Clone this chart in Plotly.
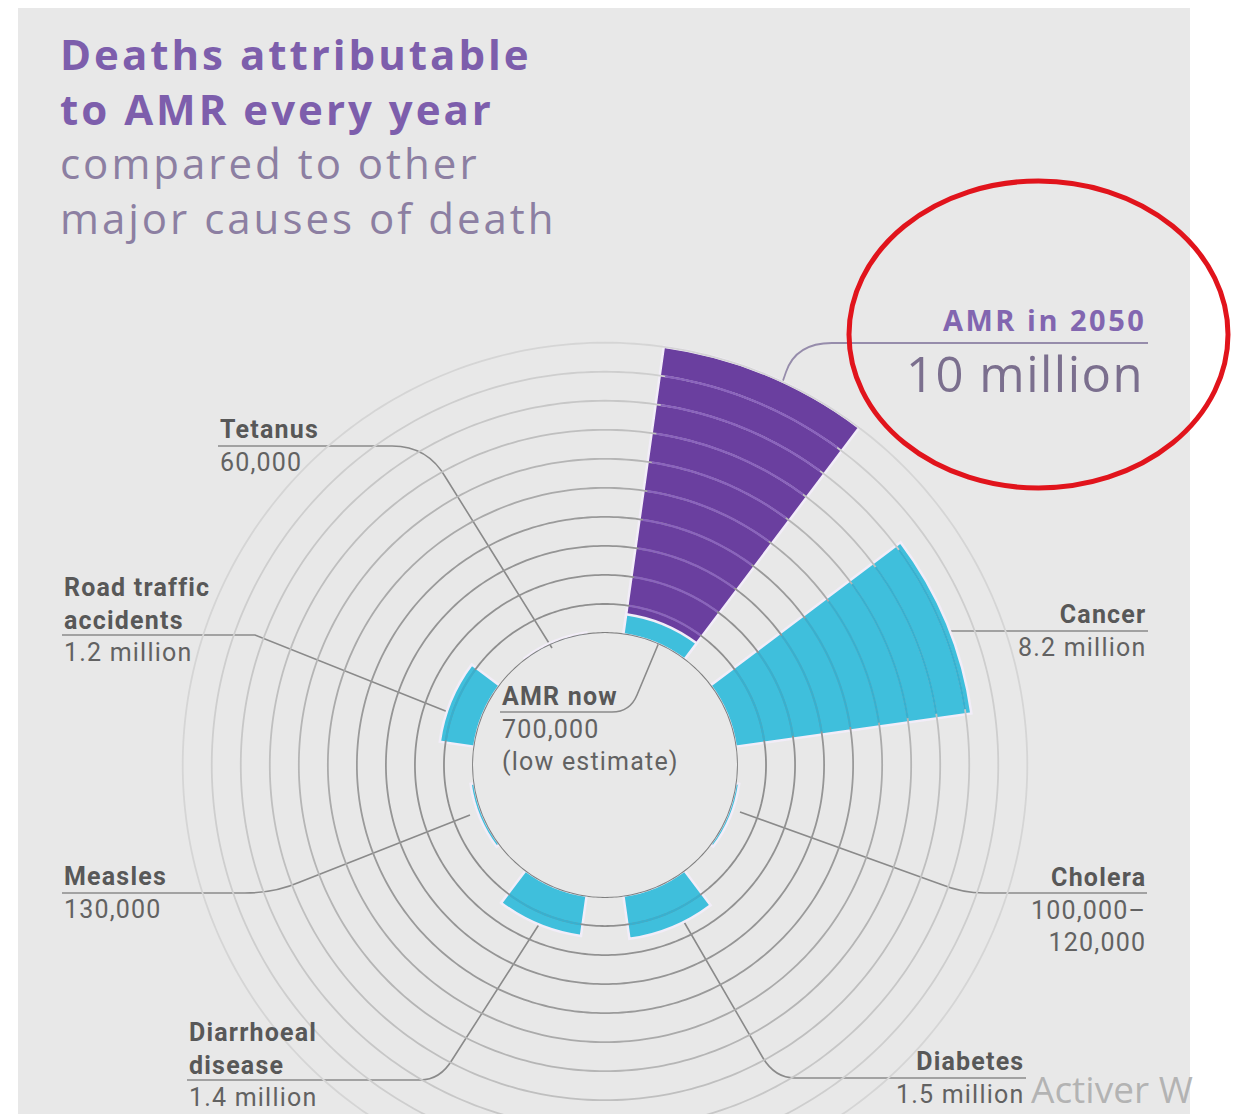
import numpy as np
import plotly.graph_objects as go

# ---------------- data ----------------
causes = ["AMR now", "Cancer", "Cholera", "Diabetes", "Diarrhoeal disease",
          "Measles", "Road traffic accidents", "Tetanus"]
deaths_millions = [0.7, 8.2, 0.12, 1.5, 1.4, 0.13, 1.2, 0.06]
amr_2050_millions = 10.0
ring_levels = [0, 1, 2, 3, 4, 5, 6, 7, 8, 9, 10]

# ---------------- page geometry ----------------
W, H = 1243, 1200          # figure is taller than the window; page overflow hidden
CX, CY = 605, 765          # centre of the dial (pixels)
R_OUT, R_HOLE = 431, 132   # outer radius / hole radius (pixels)
R_MAX = 10.3               # radial range upper bound (millions)
SLOT = 45.0
BAR_W = 29.0


def X(px):
    return px / W


def Y(py):
    return 1 - py / H


def path(cmds):
    out = []
    for c in cmds:
        op, pts = c[0], c[1:]
        out.append(op + " " + " ".join(f"{X(x):.5f},{Y(y):.5f}" for x, y in pts))
    return " ".join(out)


CYAN = "#3fbfdc"
PURPLE = "#6a3f9f"
OUTLINE = "#f2edf8"

theta_c = [SLOT / 2 + SLOT * i for i in range(len(causes))]

fig = go.Figure()

# AMR in 2050 (purple)
fig.add_trace(go.Barpolar(
    r=[amr_2050_millions], theta=[theta_c[0]], width=[BAR_W],
    marker=dict(color=PURPLE, line=dict(color=OUTLINE, width=2.5)),
    name="AMR in 2050", hoverinfo="skip"))

# other causes + AMR now (cyan)
fig.add_trace(go.Barpolar(
    r=deaths_millions, theta=theta_c, width=[BAR_W] * len(causes),
    marker=dict(color=CYAN, line=dict(color=OUTLINE, width=2.5)),
    name="Deaths", hoverinfo="skip"))

# concentric rings
ring_colors = ["#7f7f7f", "#8f8f8f", "#929292", "#959595", "#9a9a9a",
               "#aaaaaa", "#b5b5b5", "#bfbfbf", "#c7c7c7", "#cecece", "#d5d5d5"]
full = np.linspace(0, 360, 361)
for lvl, col in zip(ring_levels, ring_colors):
    fig.add_trace(go.Scatterpolar(
        r=[lvl] * len(full), theta=full, mode="lines",
        line=dict(color=col, width=1.8), hoverinfo="skip", showlegend=False))


# ring lines seen through the bars
def arcs(values, thetas, base_lo=0.0):
    rr, tt = [], []
    for v, t in zip(values, thetas):
        for lvl in ring_levels:
            if base_lo < lvl < v:
                th = np.linspace(t - BAR_W / 2 + 0.8, t + BAR_W / 2 - 0.8, 40)
                rr += [lvl] * len(th) + [None]
                tt += list(th) + [None]
    return rr, tt


r_p, t_p = arcs([amr_2050_millions], [theta_c[0]], base_lo=deaths_millions[0])
fig.add_trace(go.Scatterpolar(r=r_p, theta=t_p, mode="lines",
                              line=dict(color="#8a63bd", width=2.2),
                              hoverinfo="skip", showlegend=False))
r_c, t_c = arcs(deaths_millions, theta_c)
fig.add_trace(go.Scatterpolar(r=r_c, theta=t_c, mode="lines",
                              line=dict(color="#38b0cf", width=2.2),
                              hoverinfo="skip", showlegend=False))

# ---------------- shapes ----------------
shapes = [dict(type="rect", xref="paper", yref="paper", x0=X(18), x1=X(1190),
               y0=0, y1=Y(8), fillcolor="#e8e8e8", line=dict(width=0), layer="below")]

LEAD = dict(color="#8a8a8a", width=1.6)
leaders = [
    [("M", (218, 446)), ("L", (392, 446)), ("Q", (428, 446), (446, 478)), ("L", (552, 648))],
    [("M", (62, 635)), ("L", (255, 635)), ("L", (448, 712))],
    [("M", (62, 893)), ("L", (245, 893)), ("Q", (275, 893), (300, 882)), ("L", (470, 815))],
    [("M", (187, 1080)), ("L", (420, 1080)), ("Q", (440, 1080), (452, 1060)), ("L", (545, 915))],
    [("M", (1026, 1078)), ("L", (795, 1078)), ("Q", (775, 1078), (763, 1058)), ("L", (680, 915))],
    [("M", (1147, 893)), ("L", (985, 893)), ("Q", (962, 893), (940, 884)), ("L", (740, 812))],
    [("M", (1148, 631)), ("L", (930, 631))],
    [("M", (500, 712)), ("L", (612, 712)), ("Q", (630, 712), (637, 695)), ("L", (660, 640))],
]
for ld in leaders:
    shapes.append(dict(type="path", xref="paper", yref="paper", path=path(ld),
                       line=LEAD, layer="below"))
shapes.append(dict(type="path", xref="paper", yref="paper",
                   path=path([("M", (1148, 343)), ("L", (832, 343)),
                              ("Q", (796, 343), (786, 372)), ("L", (778, 395))]),
                   line=dict(color="#968cab", width=1.8), layer="below"))
# red highlight ellipse
shapes.append(dict(type="circle", xref="paper", yref="paper",
                   x0=X(849), x1=X(1228), y0=Y(488), y1=Y(181),
                   line=dict(color="#e1141c", width=5), layer="above"))

# ---------------- text ----------------
ann = []


def txt(t, x, y, size, color, anchor="left", bold=False, family="Roboto"):
    ann.append(dict(text=t, x=X(x), y=Y(y), xref="paper", yref="paper",
                    xanchor=anchor, yanchor="middle", showarrow=False, align=anchor,
                    font=dict(family=family, size=size, color=color,
                              weight="bold" if bold else "normal")))


TB, TR = "#7d5eac", "#8c7fa2"
LS = "letter-spacing:3px"
title = (f"<b><span style='{LS}'>Deaths attributable</span></b><br>"
         f"<b><span style='{LS}'>to AMR every year</span></b><br>"
         f"<span style='color:{TR};{LS}'>compared to other</span><br>"
         f"<span style='color:{TR};{LS}'>major causes of death</span>")
txt(title, 58, 136, 42, TB, family="Open Sans")

txt("<span style='letter-spacing:2.5px'>AMR in 2050</span>", 1148, 320, 29,
    "#8266b0", anchor="right", bold=True, family="Open Sans")
txt("<span style='letter-spacing:1.5px'>10 million</span>", 1146, 373, 49,
    "#7b6f8e", anchor="right", family="Open Sans")

LB, LN = "#585858", "#626262"
FS = 25
LSL = "letter-spacing:1.2px"


def label(name_lines, number_lines, x, y_first, anchor="left"):
    parts = [f"<b><span style='{LSL}'>{t}</span></b>" for t in name_lines]
    parts += [f"<span style='color:{LN};{LSL}'>{t}</span>" for t in number_lines]
    n = len(parts)
    txt("<br>".join(parts), x, y_first + (n - 1) * FS * 1.3 / 2, FS, LB, anchor=anchor)


label(["Tetanus"], ["60,000"], 218, 430)
label(["Road traffic", "accidents"], ["1.2 million"], 62, 587)
label(["Measles"], ["130,000"], 62, 877)
label(["Diarrhoeal", "disease"], ["1.4 million"], 187, 1032)
label(["Diabetes"], ["1.5 million"], 1026, 1062, anchor="right")
label(["Cholera"], ["100,000–", "120,000"], 1148, 877, anchor="right")
label(["Cancer"], ["8.2 million"], 1148, 615, anchor="right")
label(["AMR now"], ["700,000", "(low estimate)"], 500, 696)

txt("Activer W", 1029, 1088, 37, "rgba(170,170,170,0.85)", family="Open Sans")

fig.update_layout(
    width=W, height=H,
    margin=dict(l=0, r=0, t=0, b=0),
    paper_bgcolor="white",
    showlegend=False,
    shapes=shapes,
    annotations=ann,
    polar=dict(
        domain=dict(x=[X(CX - R_OUT), X(CX + R_OUT)], y=[Y(CY + R_OUT), Y(CY - R_OUT)]),
        hole=R_HOLE / R_OUT,
        barmode="overlay",
        bgcolor="rgba(0,0,0,0)",
        radialaxis=dict(range=[0, R_MAX], visible=False),
        angularaxis=dict(visible=False, direction="clockwise", rotation=90),
    ),
)

fig.write_html("out.html", post_script=(
    "document.documentElement.style.overflow='hidden';"
    "document.body.style.overflow='hidden';document.body.style.margin='0';"))
